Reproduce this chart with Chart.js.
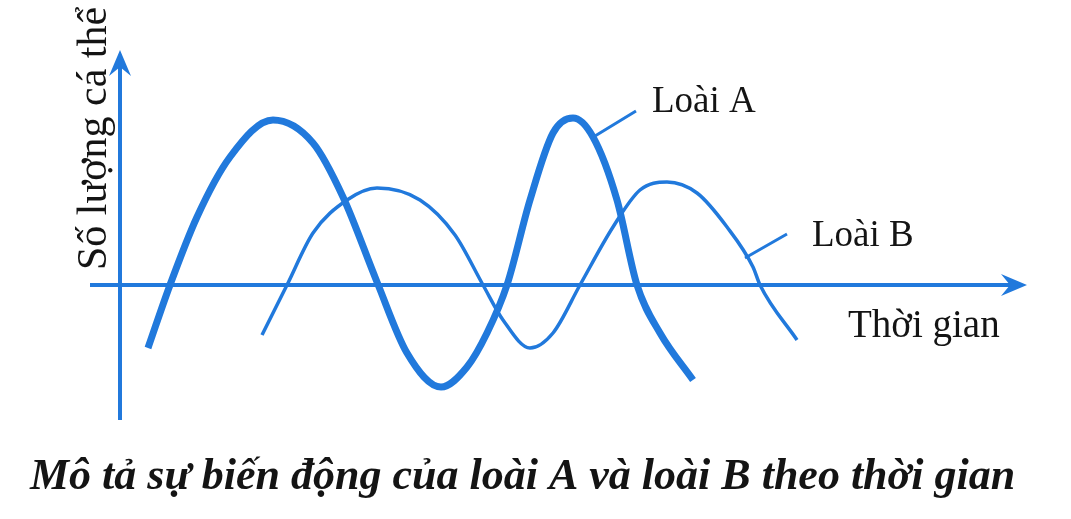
<!DOCTYPE html>
<html>
<head>
<meta charset="utf-8">
<script src="https://cdn.jsdelivr.net/npm/chart.js@4.4.1/dist/chart.umd.min.js"></script>
<style>
  html, body { margin: 0; padding: 0; background: #fff; }
  #wrap { width: 1071px; height: 519px; }
</style>
</head>
<body>
<div id="wrap"><canvas id="chart" width="1071" height="519"></canvas></div>
<script>
// Population of species A and B over time (arbitrary units)
const timeA = [2.8, 5.0, 7.7, 11.0, 15.3, 19.3, 22.3, 25.7, 28.7, 32.1, 34.7, 36.7, 38.7, 41.0, 43.3, 45.3, 47.3, 49.7, 51.7, 54.0, 57.3];
const countA = [-6.3, 0, 6.8, 12.8, 16.5, 14.2, 8.8, 0.3, -6.8, -10.2, -8.2, -4.8, 0, 8.5, 15.2, 16.7, 14.8, 8.5, 0, -4.8, -9.5];

const timeB = [14.2, 16.7, 19.3, 22.7, 25.7, 30.0, 33.5, 36.3, 38.3, 41.0, 43.3, 46.0, 49.3, 52.0, 54.7, 57.7, 60.7, 63.3, 64.0, 67.7];
const countB = [-5.0, 0, 5.2, 8.5, 9.7, 8.5, 5.0, 0, -3.5, -6.3, -4.8, 0, 5.8, 9.5, 10.3, 9.2, 5.8, 1.8, 0, -5.5];

const seriesNames = ['Loài A', 'Loài B'];
const xTitle = 'Thời gian';
const yTitle = 'Số lượng cá thể';
const caption = 'Mô tả sự biến động của loài A và loài B theo thời gian';

const BLUE = '#2179dc';

const toPoints = (xs, ys) => xs.map((x, i) => ({ x, y: ys[i] }));

// draws the two arrow axes, the labels with leader lines and the caption
const sketchPlugin = {
  id: 'sketch',
  beforeDatasetsDraw(chart) {
    const { ctx, scales: { x, y } } = chart;
    const x0 = x.getPixelForValue(0);
    const y0 = y.getPixelForValue(0);
    ctx.save();
    ctx.strokeStyle = BLUE;
    ctx.fillStyle = BLUE;
    ctx.lineWidth = 4;

    // y axis
    ctx.beginPath();
    ctx.moveTo(x0, y.bottom);
    ctx.lineTo(x0, y.top + 10);
    ctx.stroke();
    arrowHead(ctx, x0, y.top, 0, -1);

    // x axis
    ctx.beginPath();
    ctx.moveTo(x.left, y0);
    ctx.lineTo(x.right - 10, y0);
    ctx.stroke();
    arrowHead(ctx, x.right, y0, 1, 0);
    ctx.restore();
  },
  afterDraw(chart) {
    const { ctx } = chart;
    ctx.save();

    // leader lines
    ctx.strokeStyle = BLUE;
    ctx.lineWidth = 3;
    ctx.beginPath();
    ctx.moveTo(595, 136);
    ctx.lineTo(636, 111);
    ctx.moveTo(745, 258);
    ctx.lineTo(787, 234);
    ctx.stroke();

    ctx.fillStyle = '#141414';
    ctx.textBaseline = 'alphabetic';
    ctx.textAlign = 'left';
    ctx.font = '37px "Liberation Serif", "DejaVu Serif", serif';
    ctx.fillText(seriesNames[0], 652, 112);
    ctx.fillText(seriesNames[1], 812, 246);
    ctx.font = '39px "Liberation Serif", "DejaVu Serif", serif';
    ctx.fillText(xTitle, 848, 337);

    // rotated y title
    ctx.save();
    ctx.translate(106, 270);
    ctx.rotate(-Math.PI / 2);
    ctx.font = '42px "Liberation Serif", "DejaVu Serif", serif';
    ctx.fillText(yTitle, 0, 0);
    ctx.restore();

    // caption
    ctx.font = 'italic bold 44px "Liberation Serif", "DejaVu Serif", serif';
    ctx.fillText(caption, 30, 489);
    ctx.restore();
  }
};

function arrowHead(ctx, tx, ty, dx, dy) {
  const len = 26, half = 11, notch = 9;
  const px = -dy, py = dx;
  ctx.beginPath();
  ctx.moveTo(tx, ty);
  ctx.lineTo(tx - dx * len + px * half, ty - dy * len + py * half);
  ctx.lineTo(tx - dx * (len - notch), ty - dy * (len - notch));
  ctx.lineTo(tx - dx * len - px * half, ty - dy * len - py * half);
  ctx.closePath();
  ctx.fill();
}

new Chart(document.getElementById('chart'), {
  type: 'line',
  data: {
    datasets: [
      {
        label: seriesNames[0],
        data: toPoints(timeA, countA),
        borderColor: BLUE,
        borderWidth: 7,
        pointRadius: 0,
        cubicInterpolationMode: 'monotone',
        borderCapStyle: 'butt',
        borderJoinStyle: 'round',
        fill: false,
      },
      {
        label: seriesNames[1],
        data: toPoints(timeB, countB),
        borderColor: BLUE,
        borderWidth: 3.5,
        pointRadius: 0,
        cubicInterpolationMode: 'monotone',
        borderCapStyle: 'butt',
        borderJoinStyle: 'round',
        fill: false,
      },
    ],
  },
  options: {
    responsive: false,
    animation: false,
    layout: { padding: { left: 90, right: 44, top: 50, bottom: 99 } },
    plugins: { legend: { display: false }, tooltip: { enabled: false }, title: { display: false } },
    scales: {
      x: { type: 'linear', display: false, min: -3, max: 90.7 },
      y: { type: 'linear', display: false, min: -13.5, max: 23.5 },
    },
  },
  plugins: [sketchPlugin],
});
</script>
</body>
</html>
